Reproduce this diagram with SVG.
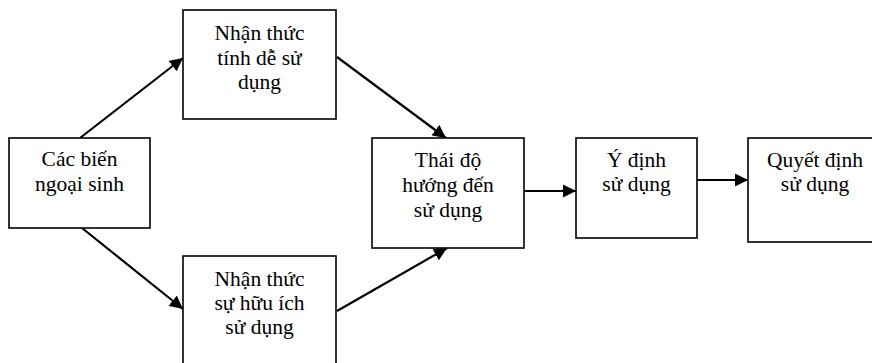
<svg xmlns="http://www.w3.org/2000/svg" width="872" height="363" viewBox="0 0 872 363">
  <style>
    .box { fill: #ffffff; stroke: #000000; stroke-width: 1.6; }
    .lbl { font-family: "Liberation Serif", "Times New Roman", serif; font-size: 21.5px; fill: #000000; text-anchor: middle; }
    .edge { stroke: #000000; stroke-width: 2.2; fill: none; marker-end: url(#arrow); }
  </style>
  <defs>
    <marker id="arrow" viewBox="0 0 10 10" refX="10" refY="5" markerWidth="6" markerHeight="6" markerUnits="strokeWidth" orient="auto">
      <path d="M0,0 L10,5 L0,10 z" fill="#000000"/>
    </marker>
  </defs>
  <rect width="872" height="363" fill="#ffffff"/>

  <g id="connectors">
    <line class="edge" x1="80" y1="138" x2="183" y2="58"/>
    <line class="edge" x1="82" y1="228" x2="183" y2="309"/>
    <line class="edge" x1="337" y1="57" x2="446" y2="138"/>
    <line class="edge" x1="337" y1="311" x2="447" y2="248"/>
    <line class="edge" x1="524" y1="191" x2="576" y2="191"/>
    <line class="edge" x1="697" y1="180" x2="748" y2="180"/>
  </g>

  <g id="node-external">
    <rect class="box" x="9" y="138" width="141" height="90"/>
    <text class="lbl" x="79.5" y="166">Các biến</text>
    <text class="lbl" x="79.5" y="191">ngoại sinh</text>
  </g>

  <g id="node-ease">
    <rect class="box" x="183" y="10" width="153" height="109"/>
    <text class="lbl" x="259.5" y="40">Nhận thức</text>
    <text class="lbl" x="259.5" y="65">tính dễ sử</text>
    <text class="lbl" x="259.5" y="89">dụng</text>
  </g>

  <g id="node-useful">
    <rect class="box" x="183" y="256" width="153" height="120"/>
    <text class="lbl" x="259.5" y="286">Nhận thức</text>
    <text class="lbl" x="259.5" y="310">sự hữu ích</text>
    <text class="lbl" x="259.5" y="334">sử dụng</text>
  </g>

  <g id="node-attitude">
    <rect class="box" x="372" y="138" width="152" height="110"/>
    <text class="lbl" x="448" y="167">Thái độ</text>
    <text class="lbl" x="448" y="192">hướng đến</text>
    <text class="lbl" x="448" y="217">sử dụng</text>
  </g>

  <g id="node-intention">
    <rect class="box" x="576" y="138" width="121" height="100"/>
    <text class="lbl" x="636.5" y="167">Ý định</text>
    <text class="lbl" x="636.5" y="191">sử dụng</text>
  </g>

  <g id="node-decision">
    <rect class="box" x="748" y="138" width="140" height="104"/>
    <text class="lbl" x="815" y="167">Quyết định</text>
    <text class="lbl" x="815" y="191">sử dụng</text>
  </g>
</svg>
